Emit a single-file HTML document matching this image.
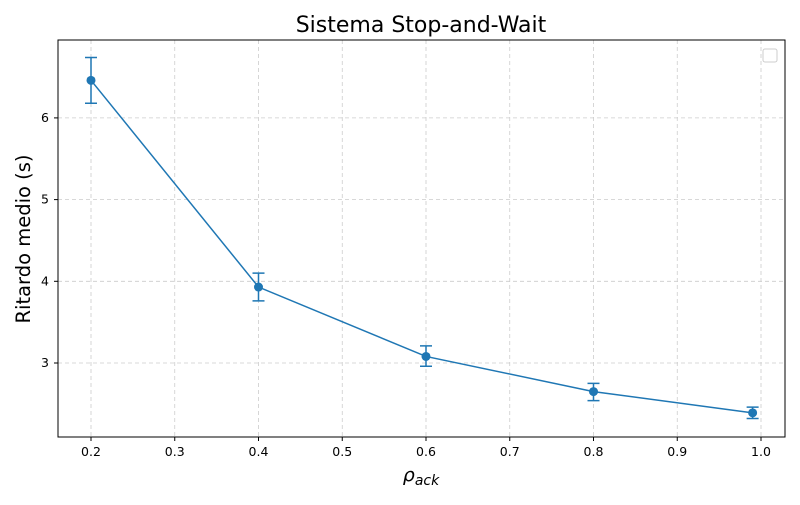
<!DOCTYPE html>
<html><head><meta charset="utf-8">
<style>
body{margin:0;background:#fff;font-family:"Liberation Sans","DejaVu Sans",sans-serif;}
svg text{font-family:"DejaVu Sans","Liberation Sans",sans-serif;}
</style></head>
<body>
<svg id="chart" width="800" height="500" viewBox="0 0 800 500">
<rect width="800" height="500" fill="#fff"/>
<text x="421" y="32" font-size="22" text-anchor="middle" fill="#000">Sistema Stop-and-Wait</text>
<g id="grid"></g>
<g id="ticks"></g>
<g id="series"></g>
<rect x="58" y="40" width="727" height="397" fill="none" stroke="#000" stroke-width="1"/>
<rect x="763" y="49" width="14" height="13" rx="2" fill="#fff" stroke="#ccc"/>
<text x="421" y="481" font-size="19" text-anchor="middle" font-style="italic">ρ<tspan font-size="14" dy="4">ack</tspan></text>
<text transform="translate(30,239) rotate(-90)" font-size="19.5" text-anchor="middle">Ritardo medio (s)</text>
</svg>
<script>
const xValues=[0.2,0.4,0.6,0.8,0.99];
const yValues=[6.46,3.93,3.08,2.65,2.39];
const yLow=[6.18,3.76,2.96,2.54,2.32];
const yHigh=[6.74,4.10,3.21,2.75,2.46];
const xTicks=[0.2,0.3,0.4,0.5,0.6,0.7,0.8,0.9,1.0];
const yTicks=[3,4,5,6];
const NS="http://www.w3.org/2000/svg";
function xs(v){return 91+(v-0.2)*837.5;}
function ys(v){return 363-(v-3)*81.7;}
function mk(tag,attrs,parent){const e=document.createElementNS(NS,tag);for(const k in attrs)e.setAttribute(k,attrs[k]);parent.appendChild(e);return e;}
const grid=document.getElementById('grid'),ticks=document.getElementById('ticks'),ser=document.getElementById('series');
xTicks.forEach(t=>{const x=xs(t);
 const g=mk('line',{x1:x,x2:x,y1:40,y2:437,stroke:'#ccc','stroke-dasharray':'4,3','stroke-width':0.8},grid);
 
 
 mk('line',{x1:x,x2:x,y1:437,y2:441,stroke:'#000'},ticks);
 const tx=mk('text',{x:x,y:456,'font-size':12.5,'text-anchor':'middle'},ticks);tx.textContent=t.toFixed(1);
 
 });
yTicks.forEach(t=>{const y=ys(t);
 const g=mk('line',{x1:58,x2:785,y1:y,y2:y,stroke:'#ccc','stroke-dasharray':'4,3','stroke-width':0.8},grid);
 
 
 mk('line',{x1:54,x2:58,y1:y,y2:y,stroke:'#000'},ticks);
 const tx=mk('text',{x:49,y:y+4,'font-size':12.5,'text-anchor':'end'},ticks);tx.textContent=t;
 
 });
const c='#1f77b4';
const pl=mk('polyline',{points:xValues.map((v,i)=>xs(v)+','+ys(yValues[i])).join(' '),fill:'none',stroke:c,'stroke-width':1.5},ser);


xValues.forEach((v,i)=>{const x=xs(v);
 const eb=mk('path',{d:`M${x},${ys(yLow[i])}V${ys(yHigh[i])}M${x-6},${ys(yLow[i])}H${x+6}M${x-6},${ys(yHigh[i])}H${x+6}`,stroke:c,'stroke-width':1.5,fill:'none'},ser);
 
 
 const p=mk('circle',{cx:x,cy:ys(yValues[i]),r:4.5,fill:c},ser);
 
 });
</script>
</body></html>
